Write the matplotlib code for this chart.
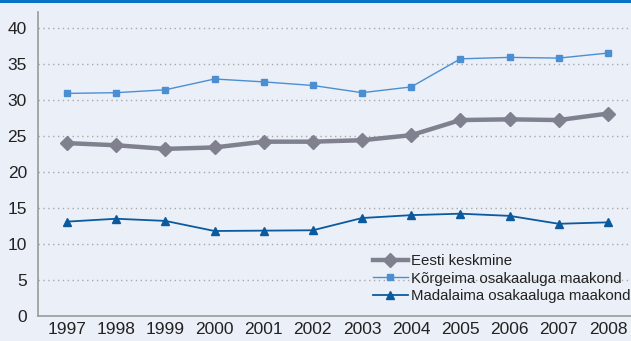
import matplotlib
matplotlib.use("Agg")
import matplotlib.pyplot as plt
import matplotlib.lines as mlines

years = [1997, 1998, 1999, 2000, 2001, 2002, 2003, 2004, 2005, 2006, 2007, 2008]
eesti = [24.0, 23.7, 23.2, 23.4, 24.2, 24.2, 24.4, 25.1, 27.2, 27.3, 27.2, 28.1]
korgeim = [30.9, 31.0, 31.4, 32.9, 32.5, 32.0, 31.0, 31.8, 35.7, 35.9, 35.8, 36.5]
madalaim = [13.1, 13.5, 13.2, 11.8, 11.85, 11.9, 13.6, 14.0, 14.2, 13.9, 12.8, 13.0]
labels = ["Eesti keskmine", "Kõrgeima osakaaluga maakond", "Madalaima osakaaluga maakond"]
yticks = [0, 5, 10, 15, 20, 25, 30, 35, 40]

plt.rcParams['font.family'] = ['Liberation Sans', 'DejaVu Sans']
bg = "#ebeff8"
fig = plt.figure(figsize=(6.31, 3.41), dpi=100, facecolor=bg)
ax = fig.add_axes([38/631, 25/341, 593/631, 304/341], facecolor=bg)

c_gray = "#80818f"
c_light = "#4b8fd2"
c_dark = "#0b5a9e"

ax.plot(years, eesti, color=c_gray, lw=3.2, marker="D", ms=7, label=labels[0], zorder=3)
ax.plot(years, korgeim, color=c_light, lw=1.0, marker="s", ms=5, label=labels[1], zorder=3)
ax.plot(years, madalaim, color=c_dark, lw=1.3, marker="^", ms=6, label=labels[2], zorder=3)

ax.set_xlim(1996.41, 2008.47)
ax.set_ylim(0, 42.2)
ax.set_xticks(years)
ax.set_xticklabels([str(y) for y in years])
ax.set_yticks(yticks)
ax.tick_params(axis="both", length=0, labelsize=12.5, colors="#222222")
ax.tick_params(axis="x", pad=4)
ax.tick_params(axis="y", pad=8)
for y in yticks[1:]:
    ax.axhline(y, color="#a8a8a8", lw=1.0, ls=(0, (1, 2.5)), zorder=1)
for s in ["top", "right"]:
    ax.spines[s].set_visible(False)
ax.spines["left"].set_color("#9a9a9a")
ax.spines["bottom"].set_color("#9a9a9a")
ax.spines["left"].set_linewidth(1.2)
ax.spines["bottom"].set_linewidth(1.2)

leg = ax.legend(loc="lower left", bbox_to_anchor=(0.565, 0.043), frameon=False, fontsize=10.8,
                handlelength=2.3, handletextpad=0.2, labelspacing=0.22, borderaxespad=0.0,
                borderpad=0.0)
for t in leg.get_texts():
    t.set_color("#222222")

fig.add_artist(mlines.Line2D([0, 1], [1 - 0.8/341, 1 - 0.8/341], color="#0a72c4", lw=2.2, transform=fig.transFigure))

fig.savefig("out.png", dpi=100, facecolor=bg)
